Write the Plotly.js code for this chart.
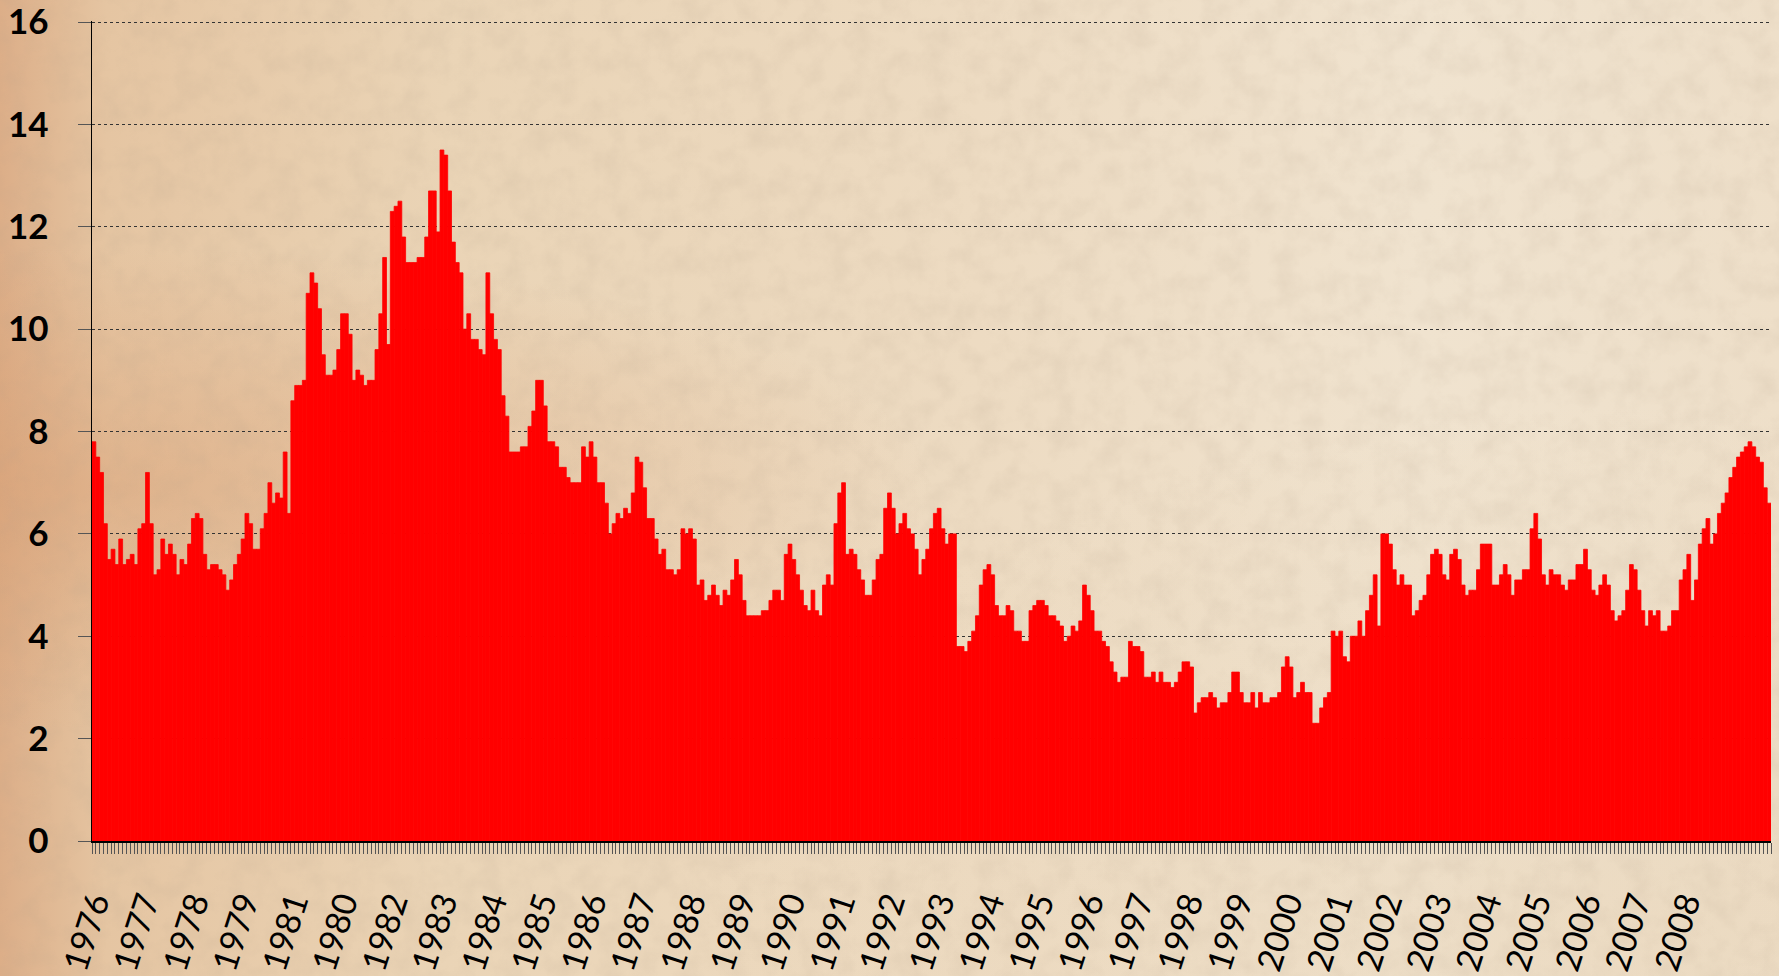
<!DOCTYPE html>
<html>
<head>
<meta charset="utf-8">
<script src="https://cdn.plot.ly/plotly-3.0.1.min.js"></script>
<style>
  html, body { margin: 0; padding: 0; }
  body {
    width: 1779px; height: 976px; overflow: hidden;
    background:
      radial-gradient(ellipse at 6% 50%, rgba(214,150,105,0.40) 0%, rgba(214,150,105,0) 35%),
      radial-gradient(ellipse at 90% 95%, rgba(225,200,165,0.25) 0%, rgba(225,200,165,0) 40%),
      linear-gradient(to right, #DCAE88 0%, #E5C5A2 6%, #EAD4B6 25%, #EDDBC2 55%, #F0E3CF 80%, #EEDFC9 100%);
  }
  #noise { position: absolute; left: 0; top: 0; width: 1779px; height: 976px; opacity: 0.22; pointer-events: none; }
  #chart { position: absolute; left: 0; top: 0; width: 1779px; height: 976px; }
</style>
</head>
<body>
<svg id="noise" xmlns="http://www.w3.org/2000/svg">
  <filter id="paper"><feTurbulence type="fractalNoise" baseFrequency="0.04" numOctaves="4" seed="7"/><feColorMatrix type="matrix" values="0 0 0 0 0.45  0 0 0 0 0.35  0 0 0 0 0.25  0 0 0 1.2 -0.45"/></filter>
  <rect width="100%" height="100%" filter="url(#paper)"/>
</svg>
<div id="chart"></div>
<script>
// Values, left to right, in consecutive segments
const ratesPart1 = [7.8,7.5,7.2,6.2,5.5,5.7,5.4,5.9,5.4,5.5,5.6,5.4,
  6.1,6.2,7.2,6.2,5.2,5.3,5.9,5.6,5.8,5.6,5.2,5.5,
  5.4,5.8,6.3,6.4,6.3,5.6,5.3,5.4,5.4,5.3,5.2,4.9,
  5.1,5.4,5.6,5.9,6.4,6.2,5.7,5.7,6.1,6.4,7.0,6.6,
  6.8,6.7,7.6,6.4,8.6,8.9,8.9,9.0,10.7,11.1,10.9,10.4,9.5];
const ratesPart2 = [9.1,9.1,9.2,9.6,10.3,10.3,9.9,9.0,9.2,9.1,
  8.9,9.0,9.0,9.6,10.3,11.4,9.7,12.3,12.4,12.5,
  11.8,11.3,11.3,11.3,11.4,11.4,11.8,12.7,12.7,11.9,
  13.5,13.4,12.7,11.7,11.3,11.1,10.0,10.3,9.8,9.8,
  9.6,9.5,11.1,10.3,9.8,9.6,8.7,8.3,7.6,7.6,
  7.6,7.7,7.7,8.1,8.4,9.0,9.0,8.5,7.8,7.8,7.7,7.3,7.3];
const ratesPart3 = [7.1,7.0,7.0,7.0,7.7,7.5,7.8,7.5,7.0,7.0,
  6.6,6.0,6.2,6.4,6.3,6.5,6.4,6.8,7.5,7.4,
  6.9,6.3,6.3,5.9,5.6,5.7,5.3,5.3,5.2,5.3,
  6.1,6.0,6.1,5.9,5.0,5.1,4.7,4.8,5.0,4.8,
  4.6,4.9,4.8,5.1,5.5,5.2,4.7,4.4,4.4,4.4,
  4.4,4.5,4.5,4.7,4.9,4.9,4.7,5.6,5.8,5.5,5.2];
const ratesPart4 = [4.9,4.6,4.5,4.9,4.5,4.4,5.0,5.2,5.0,6.2,
  6.8,7.0,5.6,5.7,5.6,5.3,5.1,4.8,4.8,5.1,
  5.5,5.6,6.5,6.8,6.5,6.0,6.2,6.4,6.1,6.0,
  5.7,5.2,5.5,5.7,6.1,6.4,6.5,6.1,5.8,6.0,
  6.0,3.8,3.8,3.7,3.9,4.1,4.4,5.0,5.3,5.4,
  5.2,4.6,4.4,4.4,4.6,4.5,4.1,4.1,3.9,3.9,4.5,4.6,4.7,4.7];
const ratesPart5 = [4.6,4.4,4.4,4.3,4.2,3.9,4.0,4.2,4.1,4.3,
  5.0,4.8,4.5,4.1,4.1,3.9,3.8,3.5,3.3,3.1,
  3.2,3.2,3.9,3.8,3.8,3.7,3.2,3.2,3.3,3.1,
  3.3,3.1,3.1,3.0,3.1,3.3,3.5,3.5,3.4,2.5,
  2.7,2.8,2.8,2.9,2.8,2.6,2.7,2.7,2.9,3.3,
  3.3,2.9,2.7,2.7,2.9,2.6,2.9,2.7,2.7,2.8,2.8,2.9];
const ratesPart6 = [3.4,3.6,3.4,2.8,2.9,3.1,2.9,2.9,2.3,2.3,
  2.6,2.8,2.9,4.1,4.0,4.1,3.6,3.5,4.0,4.0,
  4.3,4.0,4.5,4.8,5.2,4.2,6.0,6.0,5.8,5.3,
  5.0,5.2,5.0,5.0,4.4,4.5,4.7,4.8,5.2,5.6,
  5.7,5.6,5.2,5.1,5.6,5.7,5.5,5.0,4.8,4.9,
  4.9,5.3,5.8,5.8,5.8,5.0,5.0,5.2,5.4,5.2,4.8,5.1];
const ratesPart7 = [5.1,5.3,5.3,6.1,6.4,5.9,5.2,5.0,5.3,5.2,
  5.2,5.0,4.9,5.1,5.1,5.4,5.4,5.7,5.3,4.9,
  4.8,5.0,5.2,5.0,4.5,4.3,4.4,4.5,4.9,5.4,
  5.3,4.9,4.5,4.2,4.5,4.4,4.5,4.1,4.1,4.2,
  4.5,4.5,5.1,5.3,5.6,4.7,5.1,5.8,6.1,6.3,
  5.8,6.0,6.4,6.6,6.8,7.1,7.3,7.5,7.6,7.7,
  7.8,7.7,7.5,7.4,6.9,6.6];

// Category-axis year labels, as printed in the reference (one every 13 bars)
const yearLabels = ["1976","1977","1978","1979","1981","1980","1982","1983","1984","1985",
  "1986","1987","1988","1989","1990","1991","1992","1993","1994","1995","1996","1997",
  "1998","1999","2000","2001","2002","2003","2004","2005","2006","2007","2008"];
const labelEvery = 13;
const yTicks = [0,2,4,6,8,10,12,14,16];

const rates = [].concat(ratesPart1, ratesPart2, ratesPart3, ratesPart4, ratesPart5, ratesPart6, ratesPart7);
const xIdx = rates.map((_, i) => i);
const labelPos = yearLabels.map((_, k) => k * labelEvery);

const trace = {
  type: 'bar', x: xIdx, y: rates,
  marker: { color: '#FF0000', line: { color: '#FF0000', width: 0.8 } },
  hoverinfo: 'skip'
};

const layout = {
  width: 1779, height: 976,
  paper_bgcolor: 'rgba(0,0,0,0)', plot_bgcolor: 'rgba(0,0,0,0)',
  margin: { l: 92, r: 8, t: 21, b: 135, pad: 0 },
  bargap: 0, showlegend: false,
  xaxis: {
    range: [-0.5, rates.length - 0.5], fixedrange: true,
    tickmode: 'array', tickvals: labelPos, ticktext: yearLabels,
    tickangle: -72, ticks: '', ticklabelstandoff: 27,
    tickfont: { family: 'Lato, "Open Sans", sans-serif', size: 34, color: '#000' },
    showline: true, linecolor: '#000', linewidth: 1.5,
    showgrid: false, zeroline: false,
    minor: { ticks: 'outside', ticklen: 11, tickwidth: 1, tickcolor: '#555',
             tickmode: 'linear', tick0: -0.5, dtick: 1, showgrid: false }
  },
  yaxis: {
    range: [0, 16.02], fixedrange: true,
    tickmode: 'array', tickvals: yTicks, ticktext: yTicks.map(String),
    ticks: 'outside', ticklen: 13, tickwidth: 1, tickcolor: '#555',
    ticklabelstandoff: 22, ticklabeloverflow: 'allow',
    tickfont: { family: 'Lato, "Open Sans", sans-serif', size: 35, color: '#000', weight: 'bold' },
    showgrid: true, gridcolor: '#333333', griddash: 'dot', gridwidth: 1,
    showline: true, linecolor: '#000', linewidth: 1.5, zeroline: false
  }
};

Plotly.newPlot('chart', [trace], layout, { displayModeBar: false, staticPlot: true });
</script>
</body>
</html>
